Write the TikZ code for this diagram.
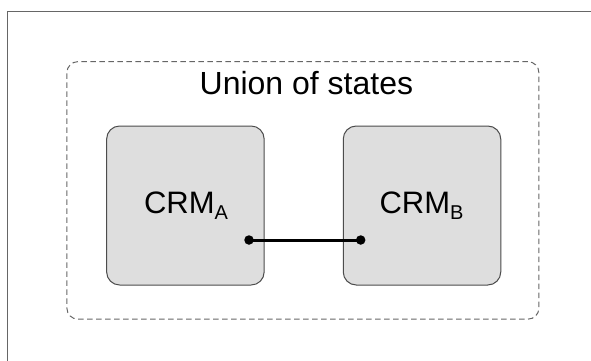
\documentclass[tikz,border=0pt]{standalone}
\usepackage{fontspec}
\setmainfont{Liberation Sans}
\begin{document}
\begin{tikzpicture}[x=1pt,y=-1pt,
  frameline/.style={draw=black!60,line width=1.3pt},
  groupbox/.style={draw=black!60,line width=1pt,dash pattern=on 5.5pt off 3.5pt,rounded corners=11pt,minimum width=472pt,minimum height=257.5pt,inner sep=0pt},
  crmbox/.style={draw=black!70,fill=black!13,line width=1pt,rounded corners=13pt,minimum width=157.5pt,minimum height=159pt,inner sep=0pt},
  bigtext/.style={font=\fontsize{31pt}{36pt}\selectfont,inner sep=0pt},
  titletext/.style={font=\fontsize{32pt}{36pt}\selectfont,inner sep=0pt},
  link/.style={line width=3pt,black},
  dot/.style={circle,fill=black,inner sep=0pt,minimum size=9.5pt}]
\useasboundingbox (0,0) rectangle (591,361);
\fill[white] (0,0) rectangle (591,361);
\draw[frameline] (7.5,370) -- (7.5,11.3) -- (600,11.3);
\node[groupbox] (union) at (302.9,190.4) {};
\node[titletext,anchor=base west] (title) at (199.5,94.5) {Union of states};
\node[crmbox] (crma) at (185.4,205.5) {};
\node[crmbox] (crmb) at (422,205.5) {};
\node[bigtext,anchor=base] (la) at (186,213.3) {CRM\raisebox{-6pt}{\fontsize{20pt}{22pt}\selectfont A}};
\node[bigtext,anchor=base] (lb) at (421.5,213.3) {CRM\raisebox{-6pt}{\fontsize{20pt}{22pt}\selectfont B}};
\node[dot] (pa) at (249,240) {};
\node[dot] (pb) at (360.7,240) {};
\draw[link] (pa.center) -- (pb.center);
\end{tikzpicture}
\end{document}
